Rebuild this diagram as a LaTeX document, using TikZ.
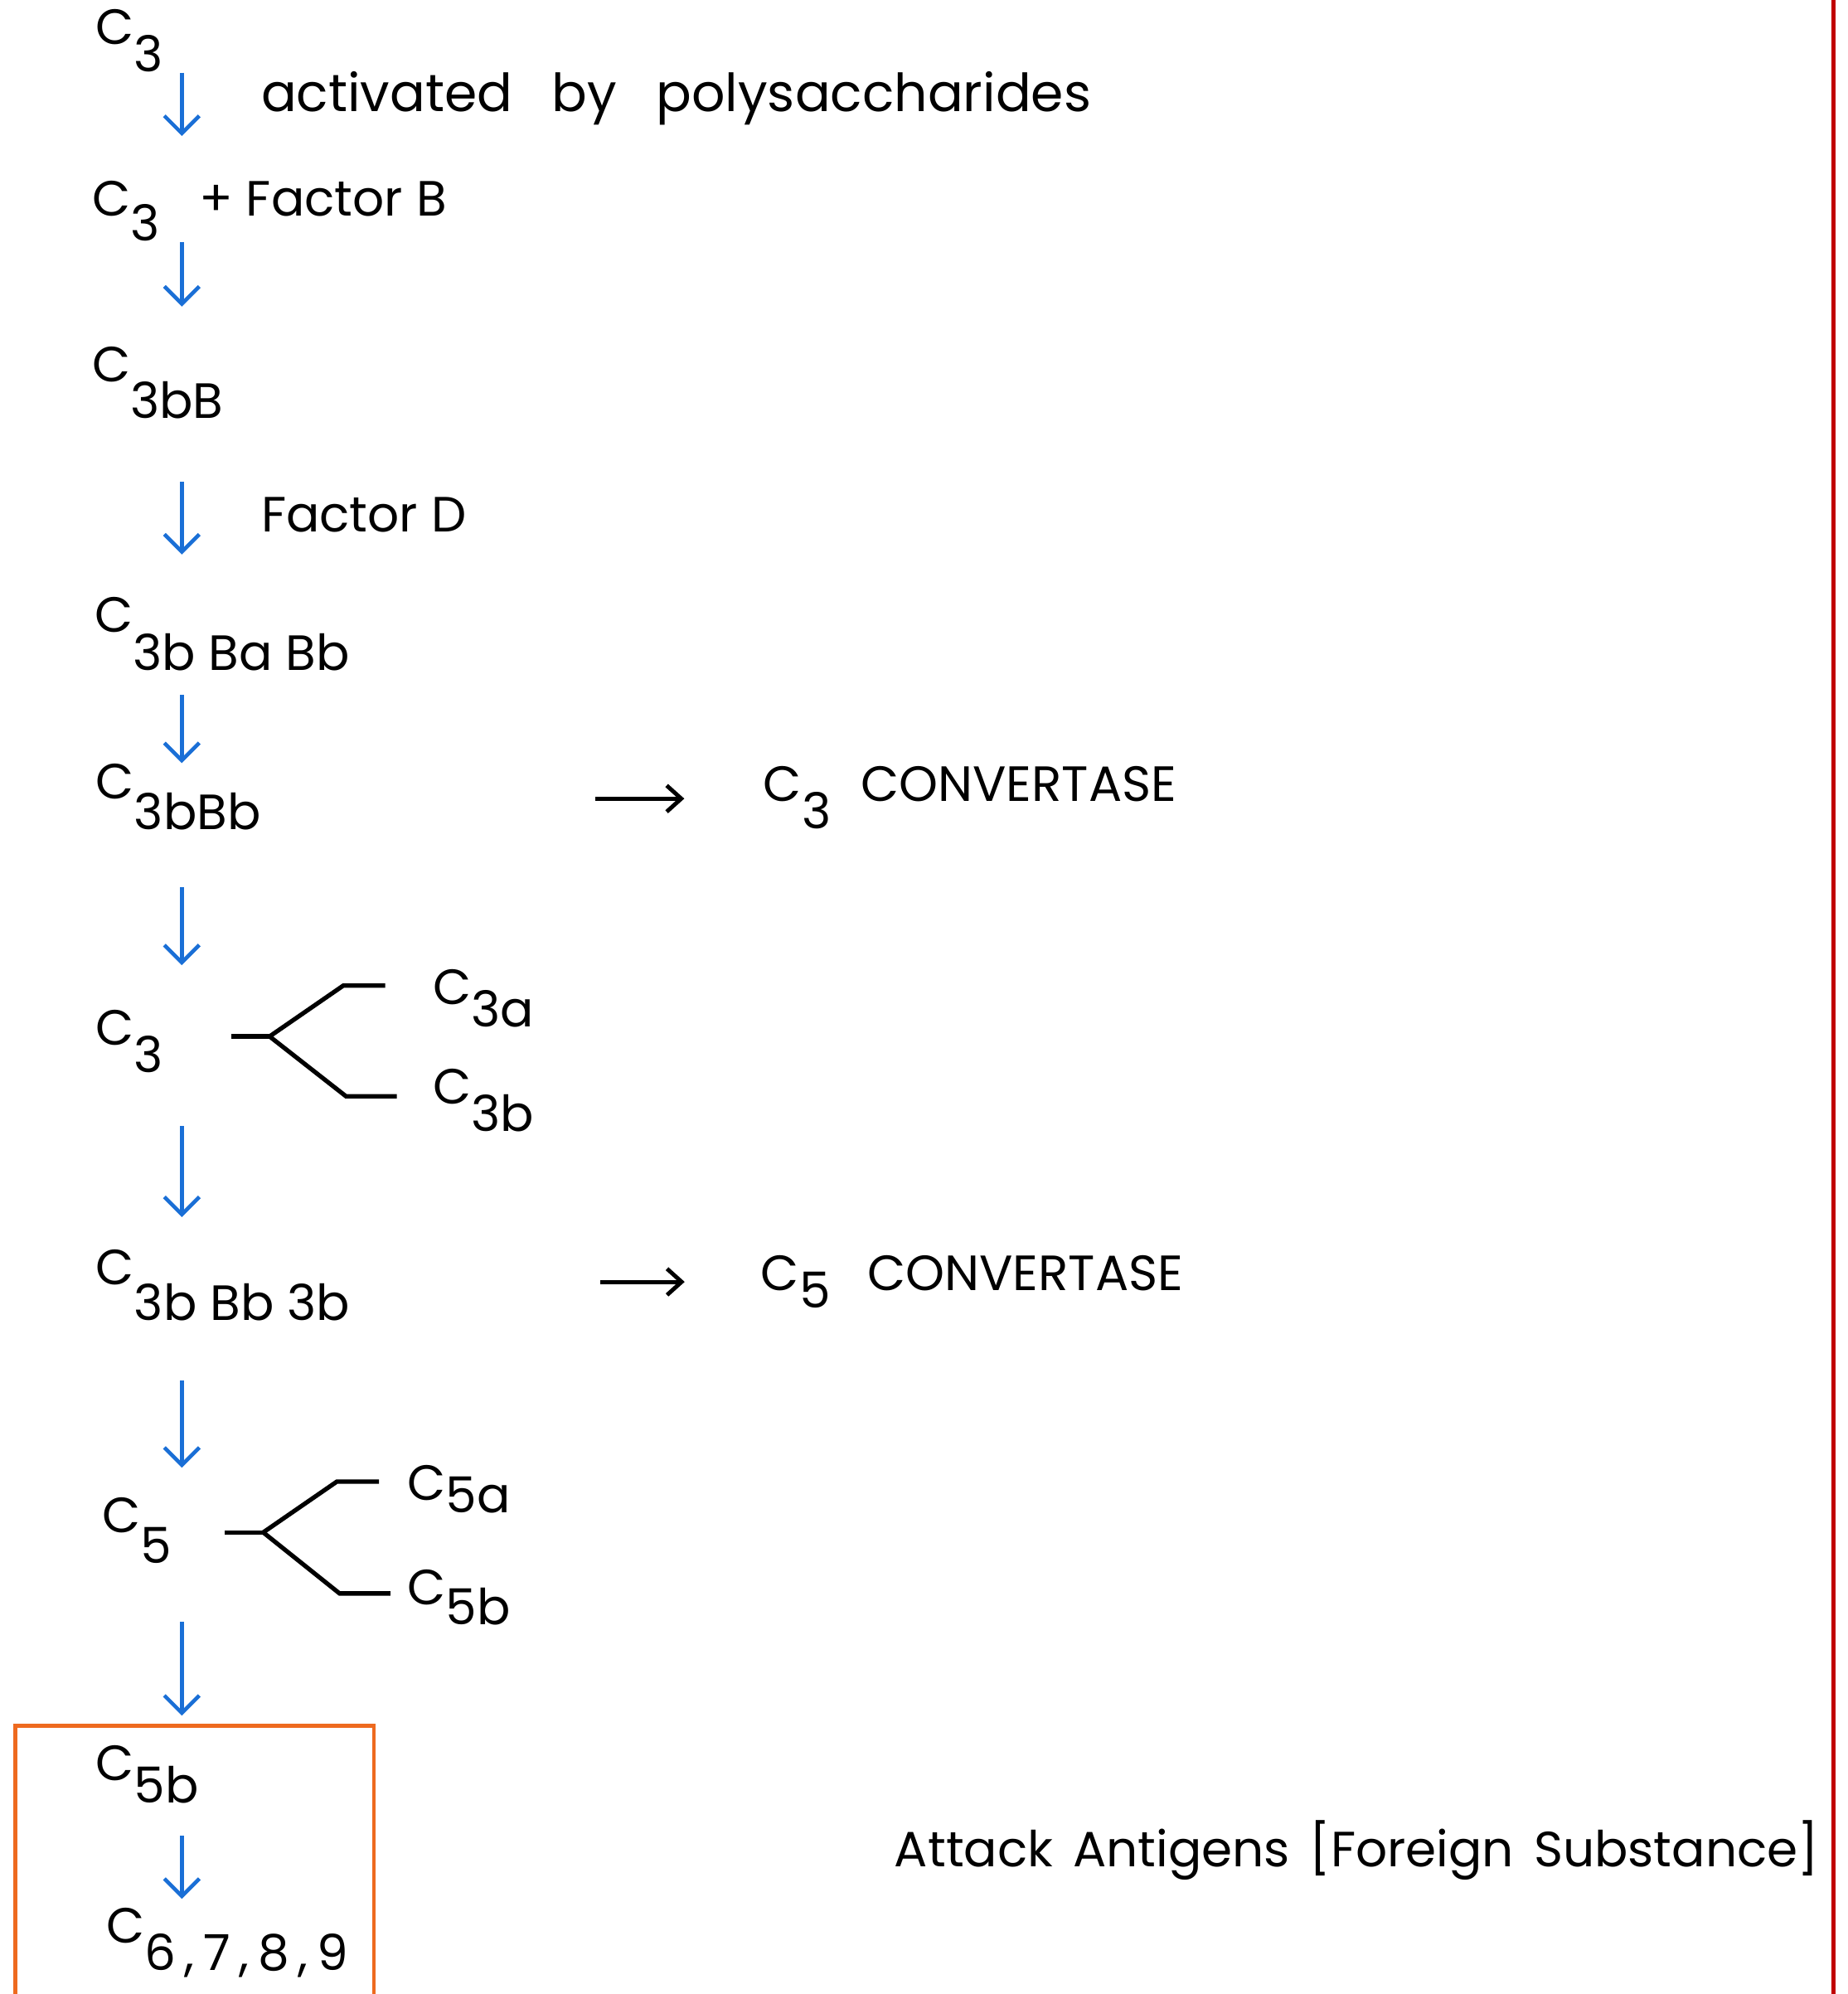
\documentclass[tikz,border=0pt]{standalone}
\usepackage{fontspec}
\setmainfont{Poppins}
\usetikzlibrary{arrows.meta, positioning, calc}
\definecolor{mFlowBlue}{HTML}{1A6FD6}
\definecolor{mBoxOrange}{HTML}{EE6A1F}
\definecolor{mEdgeRed}{HTML}{C00000}
\newcommand{\lowr}[2][0.6em]{\raisebox{-#1}{#2}}
\newcommand{\widegap}[1]{\spaceskip=#1\relax}

\begin{document}
\begin{tikzpicture}[x=0.01534cm, y=-0.01534cm,
  chem/.style={inner sep=0pt, anchor=base west, font=\fontsize{17}{20}\selectfont},
  wide/.style={chem, font=\fontsize{18}{20}\selectfont\widegap{0.75em}},
  flowArrow/.style={mFlowBlue, line width=1.3pt, -{Straight Barb[length=6pt, width=12pt]}},
  convArrow/.style={line width=1.4pt, -{Straight Barb[length=5pt, width=9pt]}},
  fork/.style={line width=1.5pt}]
\clip (0,0) rectangle (1453,1568);

% Main pathway (left column)
\node[chem] (c3top) at (75,35) {C\lowr[0.55em]{3}};
\node[chem] (c3fb) at (72,170) {C\lowr[0.5em]{3}\hspace{0.8em}+ Factor B};
\node[chem] (c3bb) at (72,300) {C\lowr[0.75em]{3bB}};
\node[chem] (c3bab) at (74,497) {C\lowr[0.78em]{3b Ba Bb}};
\node[chem] (c3bbb) at (75,628) {C\lowr[0.62em]{3bBb}};
\node[chem] (c3split) at (75,822) {C\lowr[0.55em]{3}};
\node[chem] (c3bb3b) at (75,1010) {C\lowr[0.72em]{3b Bb 3b}};
\node[chem] (c5split) at (80,1205) {C\lowr[0.62em]{5}};
\node[chem] (c5bbox) at (75,1400) {C\lowr[0.45em]{5b}};
\node[chem] (c6) at (83,1528) {C\lowr[0.55em]{\addfontfeatures{LetterSpace=18}6,7,8,9}};

% Arrow labels
\node[wide] (actby) at (205,88) {activated by polysaccharides};
\node[chem] (factd) at (205,418) {Factor D};

% Convertases (right)
\node[chem] (conv3) at (600,630) {C\lowr[0.55em]{3}\hspace{0.6em}CONVERTASE};
\node[chem] (conv5) at (598,1015) {C\lowr[0.35em]{5}\hspace{0.75em}CONVERTASE};
\coordinate (tail3) at (468,628);
\coordinate (tail5) at (472,1008);
\draw[convArrow, shorten >=27pt] (tail3) -- (tail3 -| conv3.west);
\draw[convArrow, shorten >=26pt] (tail5) -- (tail5 -| conv5.west);

% Split products
\node[chem] (c3a) at (340,790) {C\lowr[0.45em]{3a}};
\node[chem] (c3b) at (340,868) {C\lowr[0.55em]{3b}};
\node[chem] (c5a) at (320,1180) {C\lowr[0.25em]{5a}};
\node[chem] (c5b) at (320,1262) {C\lowr[0.4em]{5b}};
\coordinate (fork3) at (212,815);
\coordinate (fork5) at (207,1205);
\foreach \f/\dy in {fork3/47, fork5/48} {
  \draw[fork] (\f) -- ++(-30,0);
  \draw[fork] (\f) -- ++(58,-40) -- ++(33,0);
  \draw[fork] (\f) -- ++(60,\dy) -- ++(40,0);
}

% Blue flow arrows
\coordinate (col) at (143,0);
\foreach \a/\b/\s/\e in {c3top/c3fb/0/15.3, c3fb/c3bb/0/13.5, c3bb/c3bab/21.4/14.4,
    c3bab/c3bbb/7.9/0, c3bbb/c3split/19.6/15.3, c3split/c3bb3b/18.1/10.9,
    c3bb3b/c5split/20.5/10, c5split/c5bbox/20/10, c5bbox/c6/11/3} {
  \draw[flowArrow, shorten <=\s pt, shorten >=\e pt] (col |- \a.south) -- (col |- \b.north);
}

% Membrane attack complex
\draw[mBoxOrange, line width=1.2pt] (12,1357) rectangle (294,1600);
\node[chem, font=\fontsize{17}{20}\selectfont\widegap{0.4em}] (attack) at (703,1468) {Attack Antigens [Foreign Substance]};

% Page edge
\draw[mEdgeRed, line width=1.5pt] (1442,-5) -- (1442,1600);
\end{tikzpicture}
\end{document}
